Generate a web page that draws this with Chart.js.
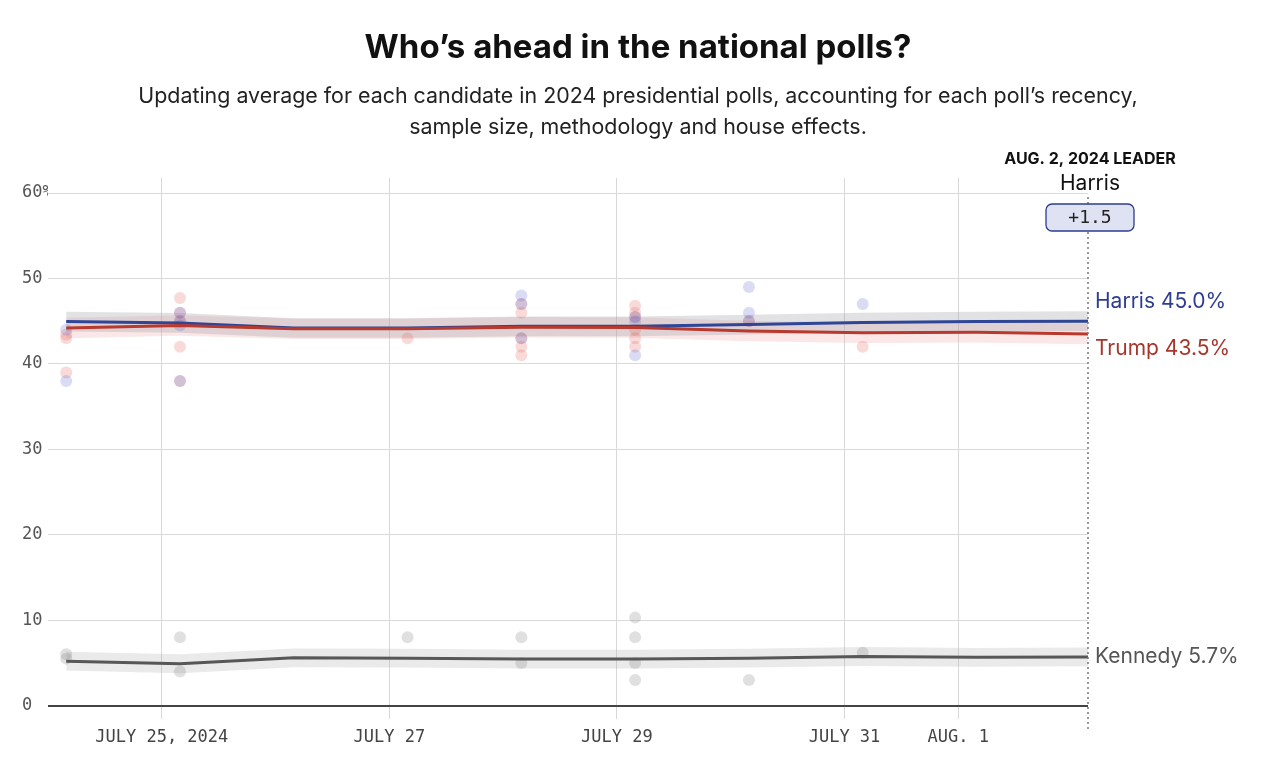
<!DOCTYPE html>
<html>
<head>
<meta charset="utf-8">
<script src="https://cdn.jsdelivr.net/npm/chart.js@4.4.1/dist/chart.umd.min.js"></script>
<style>
  html, body { margin: 0; padding: 0; background: #fff; }
  #wrap { width: 1267px; height: 759px; position: relative; }
</style>
</head>
<body>
<div id="wrap"><canvas id="c" width="1267" height="759"></canvas></div>
<script>
// ---- Data (days since July 24, 2024 00:00) ----
const avgDays    = [0.16, 1.16, 2.16, 3.16, 4.16, 5.16, 6.16, 7.16, 8.16, 9.14];
const harrisAvg  = [44.95, 44.8, 44.2, 44.2, 44.4, 44.4, 44.6, 44.85, 44.95, 45.0];
const trumpAvg   = [44.2, 44.5, 44.1, 44.1, 44.3, 44.25, 43.85, 43.65, 43.7, 43.5];
const kennedyAvg = [5.2, 4.9, 5.6, 5.55, 5.45, 5.45, 5.55, 5.75, 5.65, 5.7];
const harrisBand = 1.15;
const trumpBand  = 1.2;
const kennedyBand = 1.1;

const harrisPollDays = [0.16, 0.16, 1.16, 1.16, 1.16, 1.16, 4.16, 4.16, 4.16, 5.16, 5.16, 5.16, 6.16, 6.16, 6.16, 7.16];
const harrisPollVals = [44, 38, 46, 45, 44.5, 38, 48, 47, 43, 45.5, 45, 41, 49, 46, 45, 47];
const trumpPollDays  = [0.16, 0.16, 0.16, 1.16, 1.16, 1.16, 1.16, 1.16, 3.16, 4.16, 4.16, 4.16, 4.16, 4.16, 5.16, 5.16, 5.16, 5.16, 5.16, 5.16, 6.16, 7.16];
const trumpPollVals  = [43, 43.4, 39, 47.7, 46, 45, 42, 38, 43, 47, 46, 43, 42, 41, 46.8, 46, 45.5, 44, 43, 42, 45, 42];
const kennedyPollDays = [0.16, 0.16, 1.16, 1.16, 3.16, 4.16, 4.16, 5.16, 5.16, 5.16, 5.16, 6.16, 7.16];
const kennedyPollVals = [6, 5.5, 8, 4, 8, 8, 5, 10.3, 8, 5, 3, 3, 6.2];

const xTickValues = [1, 3, 5, 7, 8];
const xTickLabels = ['JULY 25, 2024', 'JULY 27', 'JULY 29', 'JULY 31', 'AUG. 1'];
const yTickValues = [0, 10, 20, 30, 40, 50, 60];

const leaderDate = 'AUG. 2, 2024 LEADER';
const leaderName = 'Harris';
const leaderMargin = '+1.5';
const endLabels = [
  { name: 'Harris', value: 45.0, color: '#2e3d8f', dy: -19 },
  { name: 'Trump', value: 43.5, color: '#a8352c', dy: 15 },
  { name: 'Kennedy', value: 5.7, color: '#555555', dy: 0 }
];

const pts = (xs, ys) => xs.map((x, i) => ({ x: x, y: ys[i] }));
const offs = (xs, ys, d) => xs.map((x, i) => ({ x: x, y: ys[i] + d }));

const datasets = [
  // bands (drawn first)
  { type: 'line', data: offs(avgDays, harrisAvg, harrisBand), borderWidth: 0, pointRadius: 0, fill: false, order: 3 },
  { type: 'line', data: offs(avgDays, harrisAvg, -harrisBand), borderWidth: 0, pointRadius: 0, fill: '-1', backgroundColor: 'rgba(160,160,165,0.30)', order: 3 },
  { type: 'line', data: offs(avgDays, trumpAvg, trumpBand), borderWidth: 0, pointRadius: 0, fill: false, order: 3 },
  { type: 'line', data: offs(avgDays, trumpAvg, -trumpBand), borderWidth: 0, pointRadius: 0, fill: '-1', backgroundColor: 'rgba(240,160,160,0.25)', order: 3 },
  { type: 'line', data: offs(avgDays, kennedyAvg, kennedyBand), borderWidth: 0, pointRadius: 0, fill: false, order: 3 },
  { type: 'line', data: offs(avgDays, kennedyAvg, -kennedyBand), borderWidth: 0, pointRadius: 0, fill: '-1', backgroundColor: 'rgba(170,170,170,0.25)', order: 3 },
  // poll dots
  { type: 'scatter', data: pts(harrisPollDays, harrisPollVals), pointRadius: 6, pointBackgroundColor: 'rgba(80,95,200,0.22)', pointBorderWidth: 0, order: 2 },
  { type: 'scatter', data: pts(trumpPollDays, trumpPollVals), pointRadius: 6, pointBackgroundColor: 'rgba(225,90,80,0.22)', pointBorderWidth: 0, order: 2 },
  { type: 'scatter', data: pts(kennedyPollDays, kennedyPollVals), pointRadius: 6, pointBackgroundColor: 'rgba(130,130,130,0.25)', pointBorderWidth: 0, order: 2 },
  // average lines
  { type: 'line', data: pts(avgDays, kennedyAvg), borderColor: '#575757', borderWidth: 3, pointRadius: 0, fill: false, order: 1 },
  { type: 'line', data: pts(avgDays, trumpAvg), borderColor: '#b83a2e', borderWidth: 3, pointRadius: 0, fill: false, order: 0 },
  { type: 'line', data: pts(avgDays, harrisAvg), borderColor: '#2f4596', borderWidth: 3, pointRadius: 0, fill: false, order: 0 }
];

const annotations = {
  id: 'annotations',
  afterDatasetsDraw(chart) {
    const { ctx, scales: { x, y } } = chart;
    const lx = x.getPixelForValue(avgDays[avgDays.length - 1]);
    ctx.save();
    // dotted vertical line
    ctx.strokeStyle = '#777';
    ctx.lineWidth = 1.5;
    ctx.setLineDash([2, 3]);
    ctx.beginPath();
    ctx.moveTo(lx, 197);
    ctx.lineTo(lx, 730);
    ctx.stroke();
    ctx.setLineDash([]);
    // leader header
    const cx = lx + 2;
    ctx.fillStyle = '#111';
    ctx.textAlign = 'center';
    ctx.textBaseline = 'middle';
    ctx.font = '700 16px Inter';
    ctx.fillText(leaderDate, cx, 159);
    ctx.font = '21px Inter';
    ctx.fillText(leaderName, cx, 184);
    // margin box
    const bx = cx - 44, by = 204, bw = 88, bh = 27;
    ctx.beginPath();
    ctx.roundRect(bx, by, bw, bh, 6);
    ctx.fillStyle = '#dfe2f2';
    ctx.fill();
    ctx.strokeStyle = '#2e3d8f';
    ctx.lineWidth = 1.3;
    ctx.stroke();
    ctx.fillStyle = '#222';
    ctx.font = '18px "DejaVu Sans Mono"';
    ctx.fillText(leaderMargin, cx, by + bh / 2 + 1);
    // end labels
    ctx.textAlign = 'left';
    ctx.font = '21px Inter';
    endLabels.forEach(l => {
      ctx.fillStyle = l.color;
      ctx.fillText(l.name + ' ' + l.value.toFixed(1) + '%', lx + 7, y.getPixelForValue(l.value) + l.dy);
    });
    ctx.restore();
  }
};

new Chart(document.getElementById('c'), {
  data: { datasets },
  options: {
    responsive: false,
    animation: false,
    events: [],
    layout: { padding: { left: 22, right: 13, top: 0, bottom: 2 } },
    plugins: {
      legend: { display: false },
      tooltip: { enabled: false },
      title: {
        display: true,
        text: 'Who’s ahead in the national polls?',
        color: '#111',
        font: { family: 'Inter', size: 33, weight: '700' },
        padding: { top: 28.2, bottom: 13.7 }
      },
      subtitle: {
        display: true,
        text: ['Updating average for each candidate in 2024 presidential polls, accounting for each poll’s recency,',
               'sample size, methodology and house effects.'],
        color: '#222',
        font: { family: 'Inter', size: 21.4, lineHeight: '31px' },
        padding: { top: 0, bottom: 34.5 }
      }
    },
    scales: {
      x: {
        type: 'linear',
        min: 0,
        max: avgDays[avgDays.length - 1],
        afterBuildTicks: s => { s.ticks = xTickValues.map(v => ({ value: v })); },
        ticks: {
          autoSkip: false, maxRotation: 0, padding: 9, color: '#444',
          font: { family: 'DejaVu Sans Mono', size: 17 },
          callback: v => xTickLabels[xTickValues.indexOf(v)]
        },
        grid: { color: '#d8d8d8', lineWidth: 1, drawTicks: false },
        border: { display: false }
      },
      y: {
        min: -1.52,
        max: 61.76,
        afterBuildTicks: s => { s.ticks = yTickValues.map(v => ({ value: v })); },
        afterFit: s => { s.width = 26; },
        ticks: {
          crossAlign: 'far', padding: 0, color: '#555',
          font: { family: 'DejaVu Sans Mono', size: 17 },
          callback: v => (v === 60 ? '60%' : String(v))
        },
        grid: {
          drawTicks: false,
          color: c => (c.tick && c.tick.value === 0 ? '#444' : '#dadada'),
          lineWidth: c => (c.tick && c.tick.value === 0 ? 2 : 1)
        },
        border: { display: false }
      },
      yRight: {
        type: 'linear',
        position: 'right',
        display: true,
        min: 0, max: 1,
        afterFit: s => { s.width = 166; },
        ticks: { display: false },
        grid: { display: false, drawTicks: false },
        border: { display: false }
      }
    }
  },
  plugins: [annotations]
});
</script>
</body>
</html>
